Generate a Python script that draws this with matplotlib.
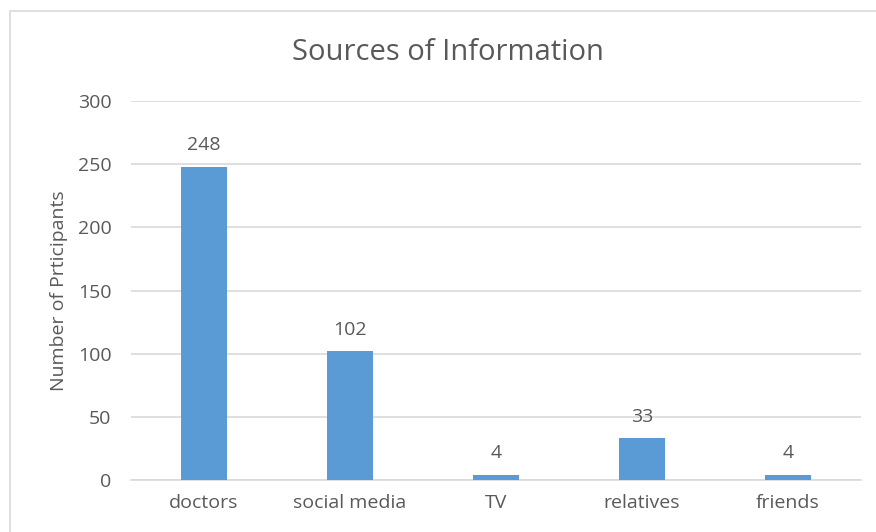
import matplotlib
matplotlib.use("Agg")
import matplotlib.pyplot as plt
from matplotlib.patches import Rectangle

categories = ["doctors", "social media", "TV", "relatives", "friends"]
counts = [248, 102, 4, 33, 4]
y_ticks = [0, 50, 100, 150, 200, 250, 300]

text_color = "#595959"
bar_color = "#5b9bd5"
grid_color = "#d9d9d9"

plt.rcParams["font.family"] = ["Open Sans", "DejaVu Sans"]

fig = plt.figure(figsize=(8.76, 5.32), dpi=100)
ax = fig.add_axes([131 / 876, 1 - 480 / 532, 730 / 876, 379 / 532])

# chart border (Excel-style frame)
fig.patches.append(Rectangle((10 / 876, -0.05), 1.0, 1 - 11 / 532 + 0.05,
                             transform=fig.transFigure, fill=False,
                             edgecolor="#d9d9d9", linewidth=1.2))

x = list(range(len(categories)))
bars = ax.bar(x, counts, width=0.32, color=bar_color, zorder=3)
for rect, v in zip(bars, counts):
    ax.annotate(str(v), (rect.get_x() + rect.get_width() / 2, v),
                xytext=(0, 9), textcoords="offset points",
                ha="center", va="bottom", fontsize=14, color=text_color)

ax.set_xlim(-0.5, len(categories) - 0.5)
ax.set_ylim(0, 300)
ax.set_yticks(y_ticks)
ax.set_xticks(x)
ax.set_xticklabels(categories)
ax.yaxis.grid(True, color=grid_color, linewidth=1.2, zorder=0)
ax.tick_params(axis="both", length=0, labelsize=14, colors=text_color)
ax.tick_params(axis="x", pad=10)
ax.tick_params(axis="y", pad=14)
for side in ["top", "right", "left"]:
    ax.spines[side].set_visible(False)
ax.spines["bottom"].set_color(grid_color)
ax.spines["bottom"].set_linewidth(1.2)

ax.set_ylabel("Number of Prticipants", fontsize=14, color=text_color, labelpad=7)
fig.text(448 / 876, 1 - 52 / 532, "Sources of Information", ha="center",
         va="center", fontsize=21, color=text_color)

fig.savefig("out.png", dpi=100)
